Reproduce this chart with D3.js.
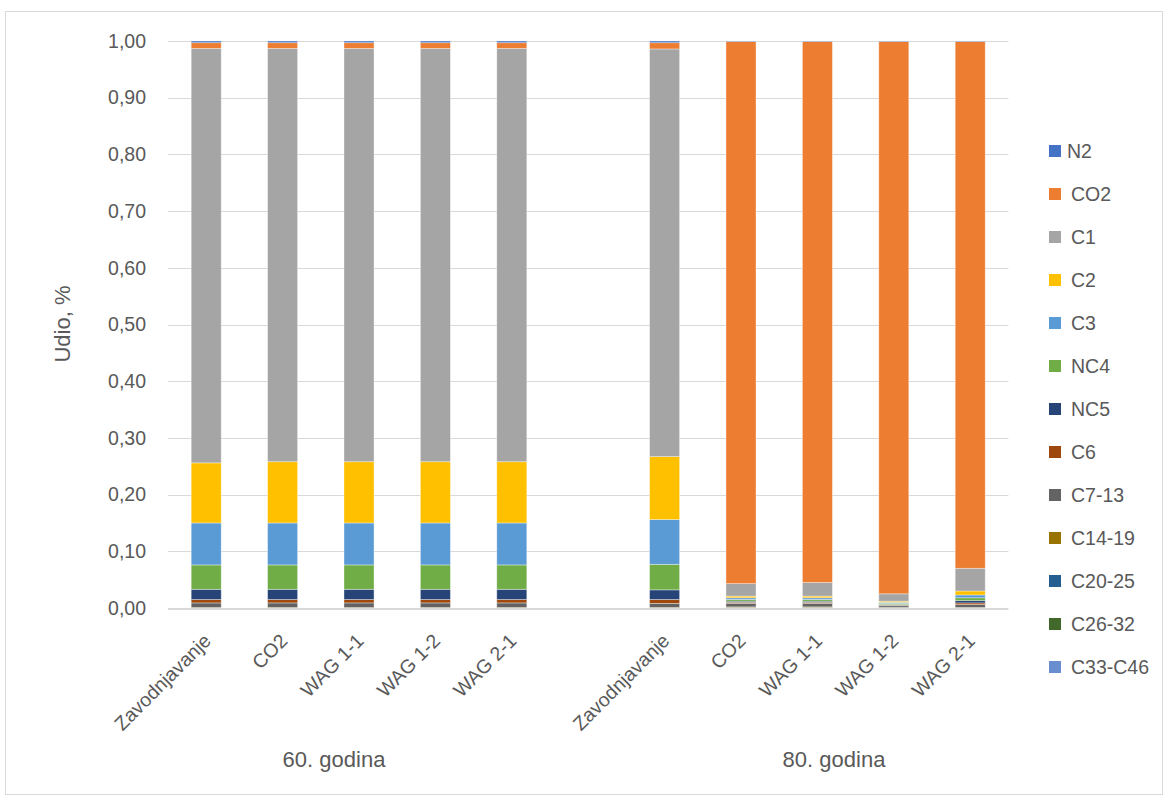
<!DOCTYPE html>
<html>
<head>
<meta charset="utf-8">
<script src="https://cdn.jsdelivr.net/npm/d3@7"></script>
<style>
  html, body { margin: 0; padding: 0; background: #fff; }
  svg { display: block; font-family: "Liberation Sans", Arial, sans-serif; }
</style>
</head>
<body>
<svg id="chart" width="1167" height="799"></svg>
<script>
// Scenarios shown in each period, and the two periods
const scenarios = ["Zavodnjavanje", "CO2", "WAG 1-1", "WAG 1-2", "WAG 2-1"];
const periods = ["60. godina", "80. godina"];

// Component names, top of stack first (legend order)
const components = ["N2", "CO2", "C1", "C2", "C3", "NC4", "NC5", "C6", "C7-13", "C14-19", "C20-25", "C26-32", "C33-C46"];
const colors = ["#4472C4", "#ED7D31", "#A5A5A5", "#FFC000", "#5B9BD5", "#70AD47", "#264478", "#9E480E", "#636363", "#997300", "#255E91", "#43682B", "#698ED0"];

// Mole fractions per bar: 5 bars for 60. godina, then 5 bars for 80. godina
const N2    = [0.003, 0.003, 0.003, 0.003, 0.003,   0.003, 0.001, 0.001, 0.001, 0.001];
const CO2   = [0.010, 0.010, 0.010, 0.010, 0.010,   0.011, 0.956, 0.954, 0.974, 0.929];
const C1    = [0.731, 0.729, 0.729, 0.729, 0.729,   0.719, 0.022, 0.024, 0.013, 0.040];
const C2    = [0.106, 0.108, 0.108, 0.108, 0.108,   0.111, 0.003, 0.003, 0.002, 0.007];
const C3    = [0.074, 0.074, 0.074, 0.074, 0.074,   0.079, 0.003, 0.003, 0.002, 0.005];
const NC4   = [0.043, 0.043, 0.043, 0.043, 0.043,   0.045, 0.003, 0.003, 0.002, 0.005];
const NC5   = [0.018, 0.018, 0.018, 0.018, 0.018,   0.017, 0.002, 0.002, 0.001, 0.004];
const C6    = [0.006, 0.006, 0.006, 0.006, 0.006,   0.007, 0.002, 0.002, 0.001, 0.003];
const C7_13 = [0.008, 0.008, 0.008, 0.008, 0.008,   0.007, 0.006, 0.006, 0.003, 0.005];
const C14_19 = [0.001, 0.001, 0.001, 0.001, 0.001,  0.001, 0.001, 0.001, 0.0005, 0.0005];
const C20_25 = [0, 0, 0, 0, 0,                      0, 0.001, 0.001, 0.0005, 0.0005];
const C26_32 = [0, 0, 0, 0, 0,                      0, 0, 0, 0, 0];
const C33_C46 = [0, 0, 0, 0, 0,                     0, 0, 0, 0, 0];

// Y axis ticks
const yTicks = [0, 0.1, 0.2, 0.3, 0.4, 0.5, 0.6, 0.7, 0.8, 0.9, 1.0];
const yTitle = "Udio, %";

const seriesValues = [N2, CO2, C1, C2, C3, NC4, NC5, C6, C7_13, C14_19, C20_25, C26_32, C33_C46];

// Build one row per bar; an empty slot separates the two periods
const rows = [];
periods.forEach((p, pi) => {
  scenarios.forEach((s, si) => {
    const row = { key: p + "|" + s, period: p, scenario: s };
    components.forEach((c, ci) => { row[c] = seriesValues[ci][pi * scenarios.length + si]; });
    rows.push(row);
  });
});
const slots = [];
periods.forEach((p, pi) => {
  if (pi > 0) slots.push("gap" + pi);
  scenarios.forEach(s => slots.push(p + "|" + s));
});

const svg = d3.select("#chart");
const W = 1167, H = 799;
const plot = { left: 168, right: 1008.4, top: 41, bottom: 608 };
const textColor = "#595959";
const gridColor = "#d9d9d9";

svg.append("rect").attr("width", W).attr("height", H).attr("fill", "#fff");
svg.append("rect")
  .attr("x", 5.5).attr("y", 11.5).attr("width", 1157).attr("height", 783)
  .attr("fill", "none").attr("stroke", gridColor).attr("stroke-width", 1);

const x = d3.scaleBand().domain(slots).range([plot.left, plot.right])
  .paddingInner(0.607).paddingOuter(0.3035);
const y = d3.scaleLinear().domain([0, 1]).range([plot.bottom, plot.top]);

const locale = d3.formatLocale({ decimal: ",", thousands: ".", grouping: [3], currency: ["", ""] });
const fmt = locale.format(".2f");

// Gridlines
svg.append("g").selectAll("line").data(yTicks.filter(t => t > 0)).join("line")
  .attr("x1", plot.left).attr("x2", plot.right)
  .attr("y1", d => Math.round(y(d)) + 0.5).attr("y2", d => Math.round(y(d)) + 0.5)
  .attr("stroke", gridColor).attr("stroke-width", 1);

// Y axis labels
const yAxis = d3.axisLeft(y).tickValues(yTicks).tickFormat(fmt).tickSize(0).tickPadding(22);
const gy = svg.append("g").attr("transform", `translate(${plot.left},0)`).call(yAxis);
gy.select(".domain").remove();
gy.selectAll("text").attr("fill", textColor).style("font-size", "19.5px")
  .style("font-family", '"Liberation Sans", Arial, sans-serif');

// Stacked bars: last component sits at the bottom
const stackKeys = components.slice().reverse();
const stacked = d3.stack().keys(stackKeys)(rows);
const gBars = svg.append("g");
stacked.forEach(layer => {
  const ci = components.indexOf(layer.key);
  gBars.append("g").attr("fill", colors[ci])
    .selectAll("rect").data(layer).join("rect")
    .attr("x", d => x(d.data.key))
    .attr("width", x.bandwidth())
    .attr("y", d => y(d[1]))
    .attr("height", d => Math.max(0, y(d[0]) - y(d[1])))
    .attr("stroke", "rgba(255,255,255,0.45)")
    .attr("stroke-width", 0.8);
});

// Baseline
svg.append("line")
  .attr("x1", plot.left).attr("x2", plot.right)
  .attr("y1", plot.bottom + 1).attr("y2", plot.bottom + 1)
  .attr("stroke", gridColor).attr("stroke-width", 2);

// Category labels, rotated
svg.append("g").selectAll("text").data(rows).join("text")
  .attr("transform", d => `translate(${x(d.key) + x.bandwidth() / 2 + 6},642) rotate(-45)`)
  .attr("text-anchor", "end")
  .attr("fill", textColor).style("font-size", "19.5px")
  .text(d => d.scenario);

// Period labels
const periodX = [334, 834];
svg.append("g").selectAll("text").data(periods).join("text")
  .attr("x", (d, i) => periodX[i]).attr("y", 767)
  .attr("text-anchor", "middle")
  .attr("fill", textColor).style("font-size", "22px")
  .text(d => d);

// Y axis title
svg.append("text")
  .attr("transform", "translate(70,324) rotate(-90)")
  .attr("text-anchor", "middle")
  .attr("fill", textColor).style("font-size", "22px")
  .text(yTitle);

// Legend
const legend = svg.append("g").selectAll("g").data(components).join("g")
  .attr("transform", (d, i) => `translate(1049,${151 + i * 43})`);
legend.append("rect")
  .attr("x", 0).attr("y", -6).attr("width", 12).attr("height", 12)
  .attr("fill", (d, i) => colors[i]);
legend.append("text")
  .attr("x", (d, i) => i === 0 ? 18 : 22).attr("y", 0).attr("dy", "0.35em")
  .attr("fill", textColor).style("font-size", "19.5px")
  .text(d => d);
</script>
</body>
</html>
